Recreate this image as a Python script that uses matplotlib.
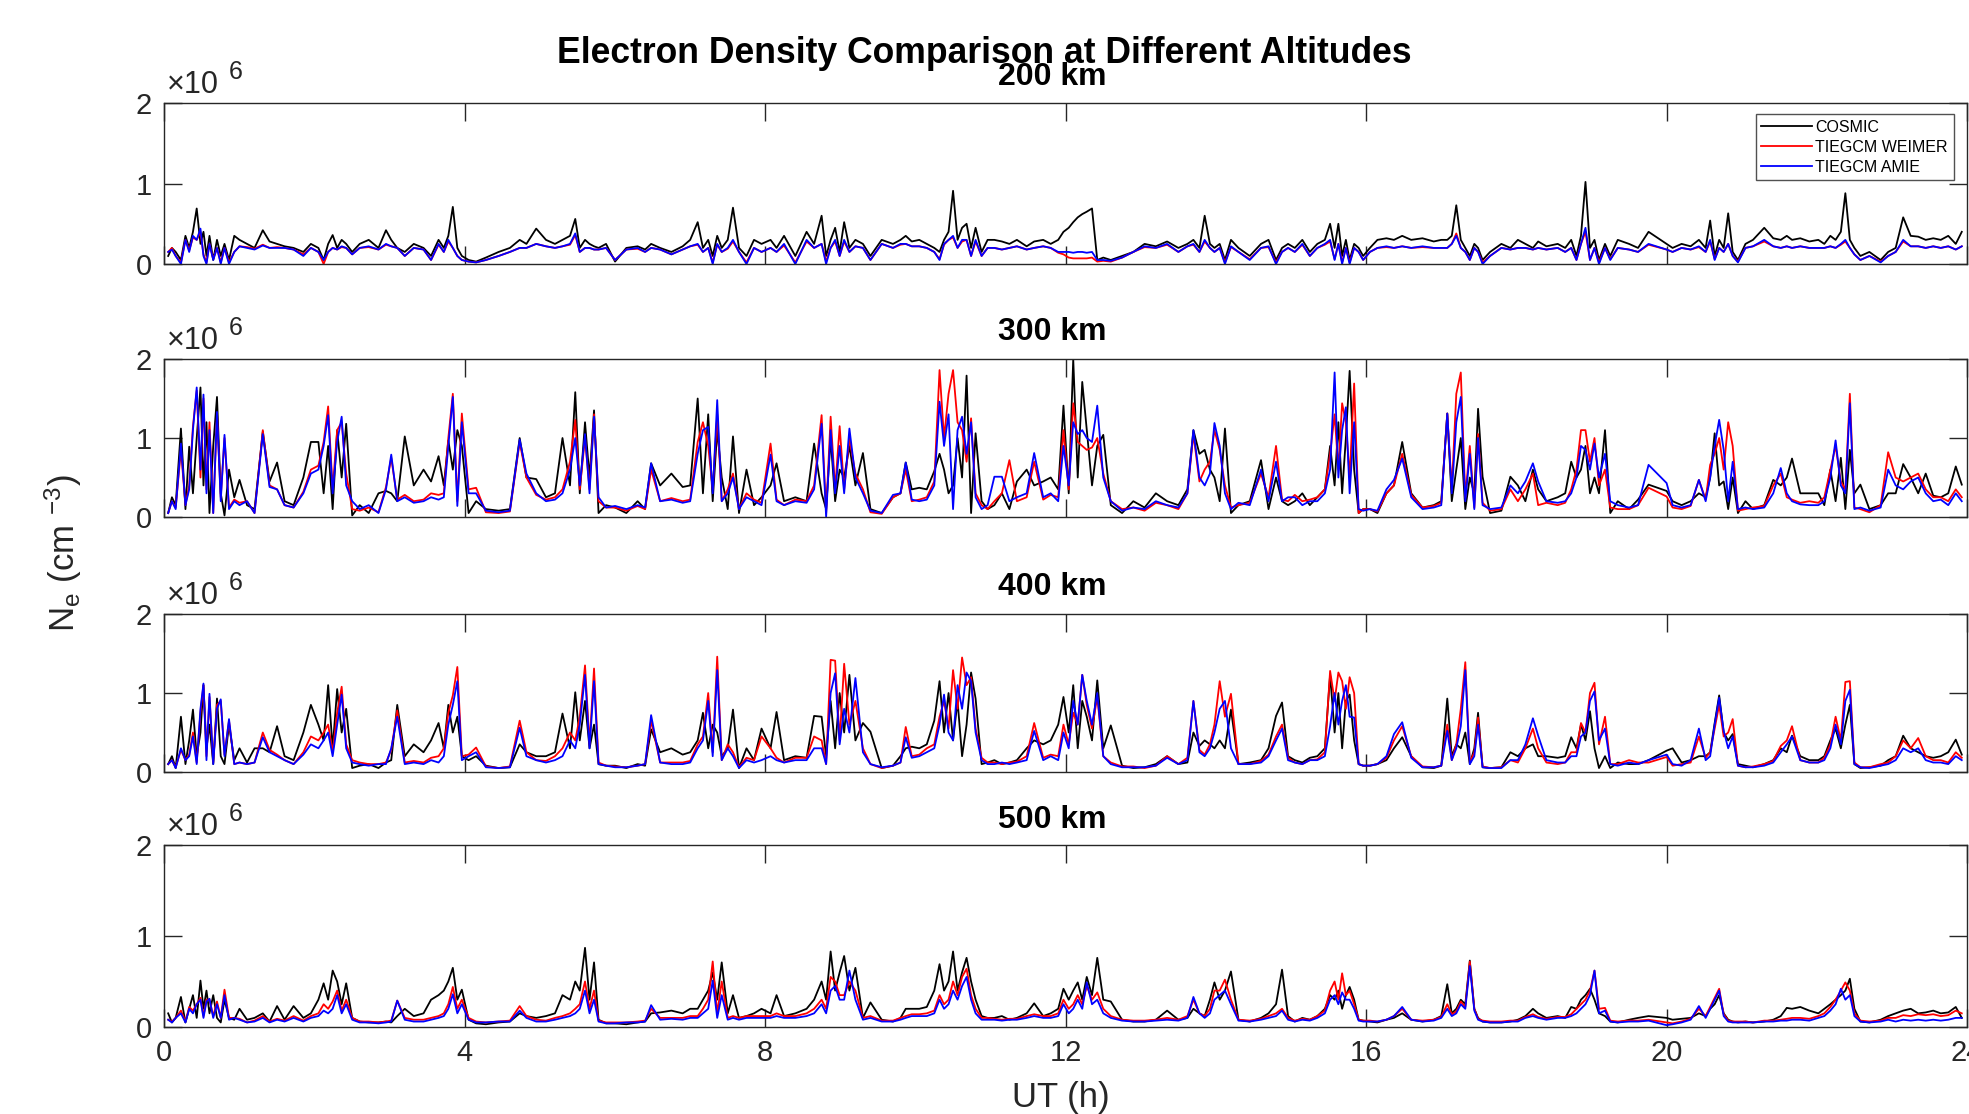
import matplotlib
matplotlib.use("Agg")
import matplotlib.pyplot as plt

plt.rcParams["font.family"] = ["Liberation Sans", "DejaVu Sans"]
plt.rcParams["mathtext.fontset"] = "custom"
plt.rcParams["mathtext.rm"] = "Liberation Sans"
plt.rcParams["mathtext.it"] = "Liberation Sans"

AXIS_GRAY = "#262626"

# UT (hours) of the profiles, shared by all four altitudes
ut = [
    0.05, 0.10, 0.15, 0.22, 0.28, 0.33, 0.38, 0.43, 0.48, 0.52, 0.56, 0.60, 0.65, 0.70, 0.75, 0.80, 0.86, 0.93,
    1.00, 1.10, 1.20, 1.31, 1.40, 1.50, 1.60, 1.72, 1.85, 1.95,
    2.05, 2.12, 2.18, 2.24, 2.30, 2.36, 2.42, 2.50, 2.60, 2.72, 2.85, 2.95,
    3.02, 3.10, 3.20, 3.32, 3.45, 3.55, 3.65, 3.72, 3.78, 3.84, 3.90, 3.96,
    4.05, 4.15, 4.28, 4.45, 4.60, 4.73, 4.82, 4.95,
    5.08, 5.20, 5.30, 5.40, 5.47, 5.53, 5.60, 5.66, 5.72, 5.78, 5.88,
    6.00, 6.15, 6.30, 6.40, 6.48, 6.60, 6.75, 6.90, 7.00,
    7.10, 7.17, 7.24, 7.30, 7.36, 7.42, 7.50, 7.57, 7.65, 7.75, 7.85, 7.95,
    8.07, 8.15, 8.25, 8.40, 8.55, 8.65, 8.75, 8.81, 8.87, 8.93, 8.99,
    9.05, 9.12, 9.20, 9.30, 9.40, 9.55, 9.70, 9.80, 9.87, 9.95,
    10.05, 10.15, 10.25, 10.32, 10.38, 10.44, 10.50, 10.56, 10.62, 10.68, 10.74, 10.80, 10.88, 10.96,
    11.05, 11.15, 11.25, 11.35, 11.48, 11.58, 11.70, 11.80, 11.90, 11.97,
    12.04, 12.10, 12.16, 12.22, 12.28, 12.35, 12.42, 12.50, 12.60, 12.75, 12.90,
    13.05, 13.20, 13.35, 13.50, 13.62, 13.70, 13.78, 13.85, 13.92, 13.98,
    14.05, 14.12, 14.20, 14.30, 14.45, 14.60, 14.70, 14.80, 14.88, 14.96,
    15.05, 15.15, 15.25, 15.35, 15.45, 15.52, 15.58, 15.63, 15.68, 15.73, 15.78, 15.84, 15.90, 15.96,
    16.05, 16.15, 16.27, 16.37, 16.48, 16.60, 16.75, 16.90, 17.00,
    17.08, 17.14, 17.20, 17.26, 17.32, 17.38, 17.44, 17.49, 17.55, 17.65, 17.80, 17.92,
    18.02, 18.12, 18.22, 18.29, 18.40, 18.55, 18.65, 18.73, 18.80, 18.86, 18.92, 18.98,
    19.04, 19.10, 19.18, 19.25, 19.35, 19.50, 19.62, 19.76, 20.00,
    20.08, 20.20, 20.32, 20.43, 20.52, 20.58, 20.64, 20.70, 20.76, 20.82, 20.88, 20.95,
    21.05, 21.15, 21.30, 21.42, 21.52, 21.60, 21.67, 21.78, 21.90,
    22.02, 22.10, 22.18, 22.25, 22.32, 22.38, 22.44, 22.50, 22.58, 22.70, 22.85, 22.95,
    23.05, 23.15, 23.25, 23.35, 23.45, 23.55, 23.65, 23.75, 23.85, 23.93,
]

# Ne in units of 1e6 cm^-3
cosmic_200 = [
    0.10, 0.20, 0.15, 0.05, 0.35, 0.20, 0.40, 0.69, 0.25, 0.40, 0.10, 0.35, 0.05, 0.30, 0.10, 0.25, 0.05, 0.35,
    0.30, 0.25, 0.20, 0.42, 0.28, 0.25, 0.22, 0.20, 0.15, 0.25,
    0.20, 0.05, 0.25, 0.36, 0.20, 0.30, 0.25, 0.15, 0.25, 0.30, 0.20, 0.42,
    0.30, 0.20, 0.15, 0.25, 0.20, 0.10, 0.30, 0.20, 0.35, 0.71, 0.20, 0.10,
    0.05, 0.03, 0.08, 0.15, 0.20, 0.30, 0.25, 0.44,
    0.30, 0.25, 0.30, 0.35, 0.56, 0.20, 0.30, 0.25, 0.22, 0.20, 0.25,
    0.03, 0.20, 0.22, 0.18, 0.25, 0.20, 0.15, 0.22, 0.30,
    0.52, 0.20, 0.30, 0.10, 0.35, 0.20, 0.30, 0.70, 0.20, 0.10, 0.30, 0.25,
    0.30, 0.20, 0.35, 0.10, 0.40, 0.25, 0.60, 0.10, 0.30, 0.45, 0.15,
    0.52, 0.20, 0.30, 0.25, 0.10, 0.30, 0.25, 0.30, 0.35, 0.28,
    0.30, 0.25, 0.20, 0.15, 0.30, 0.40, 0.91, 0.30, 0.45, 0.50, 0.20, 0.45, 0.15, 0.30,
    0.30, 0.28, 0.25, 0.30, 0.22, 0.28, 0.30, 0.25, 0.30, 0.40,
    0.45, 0.52, 0.58, 0.62, 0.65, 0.69, 0.05, 0.08, 0.05, 0.10, 0.15,
    0.25, 0.22, 0.28, 0.20, 0.25, 0.30, 0.20, 0.60, 0.25, 0.20,
    0.25, 0.05, 0.30, 0.20, 0.10, 0.25, 0.30, 0.05, 0.20, 0.25,
    0.20, 0.30, 0.15, 0.25, 0.30, 0.50, 0.20, 0.50, 0.10, 0.30, 0.05, 0.25, 0.20, 0.10,
    0.20, 0.30, 0.32, 0.30, 0.35, 0.30, 0.32, 0.28, 0.30,
    0.30, 0.35, 0.73, 0.30, 0.20, 0.10, 0.25, 0.20, 0.05, 0.15, 0.25, 0.20,
    0.30, 0.25, 0.20, 0.28, 0.22, 0.25, 0.20, 0.30, 0.10, 0.35, 1.02, 0.20,
    0.30, 0.05, 0.25, 0.10, 0.30, 0.25, 0.20, 0.40, 0.25,
    0.20, 0.25, 0.22, 0.30, 0.20, 0.54, 0.10, 0.30, 0.20, 0.63, 0.15, 0.05,
    0.25, 0.30, 0.45, 0.32, 0.30, 0.35, 0.30, 0.32, 0.28,
    0.30, 0.25, 0.35, 0.30, 0.40, 0.88, 0.30, 0.20, 0.10, 0.15, 0.05, 0.15,
    0.20, 0.58, 0.35, 0.34, 0.30, 0.32, 0.30, 0.35, 0.25, 0.40,
]
weimer_200 = [
    0.15, 0.20, 0.10, 0.02, 0.30, 0.17, 0.33, 0.30, 0.40, 0.12, 0.02, 0.25, 0.06, 0.20, 0.02, 0.20, 0.02, 0.15,
    0.22, 0.21, 0.19, 0.24, 0.20, 0.21, 0.20, 0.18, 0.12, 0.20,
    0.15, 0.00, 0.15, 0.20, 0.18, 0.21, 0.20, 0.12, 0.20, 0.21, 0.18, 0.24,
    0.22, 0.20, 0.10, 0.20, 0.18, 0.05, 0.24, 0.15, 0.28, 0.20, 0.10, 0.05,
    0.03, 0.02, 0.05, 0.10, 0.15, 0.20, 0.20, 0.25,
    0.22, 0.20, 0.22, 0.24, 0.36, 0.15, 0.20, 0.20, 0.18, 0.18, 0.20,
    0.05, 0.18, 0.19, 0.15, 0.20, 0.18, 0.12, 0.18, 0.22,
    0.24, 0.15, 0.20, 0.02, 0.24, 0.15, 0.19, 0.28, 0.15, 0.02, 0.20, 0.15,
    0.20, 0.15, 0.23, 0.02, 0.28, 0.20, 0.25, 0.03, 0.20, 0.28, 0.10,
    0.28, 0.15, 0.22, 0.20, 0.05, 0.25, 0.20, 0.24, 0.25, 0.22,
    0.22, 0.20, 0.15, 0.06, 0.24, 0.30, 0.33, 0.20, 0.28, 0.30, 0.10, 0.28, 0.10, 0.20,
    0.20, 0.18, 0.20, 0.22, 0.18, 0.20, 0.22, 0.20, 0.14, 0.12,
    0.08, 0.07, 0.07, 0.07, 0.07, 0.08, 0.03, 0.04, 0.03, 0.08, 0.15,
    0.21, 0.20, 0.24, 0.15, 0.22, 0.24, 0.15, 0.28, 0.20, 0.15,
    0.20, 0.02, 0.21, 0.15, 0.06, 0.20, 0.21, 0.02, 0.15, 0.20,
    0.15, 0.24, 0.10, 0.20, 0.24, 0.28, 0.06, 0.25, 0.02, 0.20, 0.02, 0.20, 0.15, 0.05,
    0.15, 0.20, 0.21, 0.20, 0.22, 0.20, 0.21, 0.20, 0.20,
    0.20, 0.25, 0.38, 0.20, 0.15, 0.05, 0.20, 0.15, 0.02, 0.10, 0.20, 0.18,
    0.20, 0.20, 0.18, 0.20, 0.18, 0.20, 0.15, 0.20, 0.05, 0.25, 0.40, 0.05,
    0.20, 0.02, 0.20, 0.06, 0.20, 0.18, 0.15, 0.24, 0.18,
    0.15, 0.20, 0.18, 0.21, 0.15, 0.28, 0.06, 0.20, 0.15, 0.25, 0.10, 0.03,
    0.20, 0.22, 0.28, 0.22, 0.20, 0.22, 0.20, 0.22, 0.20,
    0.20, 0.20, 0.22, 0.20, 0.24, 0.28, 0.20, 0.12, 0.05, 0.10, 0.03, 0.10,
    0.15, 0.28, 0.22, 0.22, 0.20, 0.22, 0.20, 0.22, 0.18, 0.22,
]
amie_200 = [
    0.15, 0.18, 0.10, 0.00, 0.30, 0.15, 0.35, 0.30, 0.44, 0.10, 0.00, 0.25, 0.05, 0.20, 0.00, 0.20, 0.00, 0.15,
    0.22, 0.20, 0.18, 0.23, 0.20, 0.20, 0.20, 0.18, 0.10, 0.20,
    0.15, 0.05, 0.15, 0.20, 0.18, 0.22, 0.20, 0.12, 0.20, 0.22, 0.18, 0.25,
    0.22, 0.20, 0.10, 0.20, 0.18, 0.05, 0.25, 0.15, 0.30, 0.20, 0.10, 0.05,
    0.03, 0.02, 0.05, 0.10, 0.15, 0.20, 0.20, 0.25,
    0.22, 0.20, 0.22, 0.25, 0.38, 0.15, 0.20, 0.20, 0.18, 0.18, 0.20,
    0.05, 0.18, 0.20, 0.15, 0.20, 0.18, 0.12, 0.18, 0.22,
    0.25, 0.15, 0.20, 0.00, 0.25, 0.15, 0.20, 0.30, 0.15, 0.00, 0.20, 0.15,
    0.20, 0.15, 0.25, 0.00, 0.30, 0.20, 0.25, 0.00, 0.20, 0.30, 0.10,
    0.30, 0.15, 0.22, 0.20, 0.05, 0.25, 0.20, 0.25, 0.25, 0.22,
    0.22, 0.20, 0.15, 0.05, 0.25, 0.30, 0.35, 0.20, 0.30, 0.30, 0.10, 0.30, 0.10, 0.20,
    0.20, 0.18, 0.20, 0.22, 0.18, 0.20, 0.22, 0.20, 0.15, 0.15,
    0.15, 0.14, 0.15, 0.15, 0.14, 0.15, 0.05, 0.05, 0.04, 0.08, 0.15,
    0.22, 0.20, 0.25, 0.15, 0.22, 0.25, 0.15, 0.30, 0.20, 0.15,
    0.20, 0.00, 0.22, 0.15, 0.05, 0.20, 0.22, 0.00, 0.15, 0.20,
    0.15, 0.25, 0.10, 0.20, 0.25, 0.30, 0.05, 0.25, 0.00, 0.20, 0.00, 0.20, 0.15, 0.05,
    0.15, 0.20, 0.22, 0.20, 0.22, 0.20, 0.22, 0.20, 0.20,
    0.20, 0.25, 0.35, 0.20, 0.15, 0.05, 0.20, 0.15, 0.00, 0.10, 0.20, 0.18,
    0.20, 0.20, 0.18, 0.20, 0.18, 0.20, 0.15, 0.20, 0.05, 0.25, 0.45, 0.05,
    0.20, 0.00, 0.20, 0.05, 0.20, 0.18, 0.15, 0.25, 0.18,
    0.15, 0.20, 0.18, 0.22, 0.15, 0.30, 0.05, 0.20, 0.15, 0.25, 0.10, 0.02,
    0.20, 0.22, 0.30, 0.22, 0.20, 0.22, 0.20, 0.22, 0.20,
    0.20, 0.20, 0.22, 0.20, 0.25, 0.30, 0.20, 0.12, 0.05, 0.10, 0.02, 0.10,
    0.15, 0.30, 0.22, 0.22, 0.20, 0.22, 0.20, 0.22, 0.18, 0.22,
]

cosmic_300 = [
    0.05, 0.25, 0.15, 1.12, 0.10, 0.89, 0.30, 1.00, 1.64, 0.40, 1.20, 0.05, 0.90, 1.52, 0.30, 0.02, 0.60, 0.25,
    0.47, 0.15, 0.10, 1.08, 0.45, 0.69, 0.20, 0.15, 0.50, 0.95,
    0.95, 0.30, 0.90, 0.10, 1.10, 0.50, 1.18, 0.02, 0.15, 0.05, 0.30, 0.33,
    0.30, 0.20, 1.02, 0.40, 0.60, 0.45, 0.77, 0.40, 0.97, 0.60, 1.10, 0.90,
    0.05, 0.20, 0.10, 0.08, 0.10, 1.00, 0.50, 0.48,
    0.25, 0.30, 1.00, 0.40, 1.58, 0.30, 1.20, 0.50, 1.35, 0.05, 0.15,
    0.12, 0.05, 0.20, 0.10, 0.68, 0.40, 0.55, 0.38, 0.40,
    1.50, 0.30, 1.30, 0.20, 1.10, 0.50, 0.10, 1.02, 0.05, 0.60, 0.15, 0.25,
    0.40, 0.68, 0.20, 0.25, 0.20, 0.93, 0.30, 0.10, 1.00, 0.20, 0.60,
    0.50, 0.90, 0.40, 0.81, 0.10, 0.05, 0.25, 0.30, 0.69, 0.35,
    0.37, 0.35, 0.58, 0.80, 0.60, 0.30, 0.40, 1.00, 0.50, 1.79, 0.05, 1.06, 0.20, 0.10,
    0.15, 0.30, 0.10, 0.45, 0.60, 0.40, 0.45, 0.50, 0.35, 1.41,
    0.30, 2.00, 0.50, 1.71, 1.10, 0.40, 0.90, 1.04, 0.15, 0.05, 0.20,
    0.12, 0.30, 0.20, 0.15, 0.35, 1.10, 0.80, 0.85, 0.60, 0.50,
    0.20, 1.12, 0.05, 0.15, 0.20, 0.72, 0.10, 0.50, 0.20, 0.15,
    0.20, 0.30, 0.15, 0.25, 0.35, 0.90, 0.40, 1.20, 0.30, 1.00, 1.85, 0.60, 0.05, 0.10,
    0.10, 0.05, 0.30, 0.40, 0.95, 0.30, 0.12, 0.15, 0.20,
    1.31, 0.20, 0.60, 1.00, 0.10, 0.50, 0.30, 1.37, 0.51, 0.05, 0.08, 0.51,
    0.40, 0.20, 0.60, 0.35, 0.20, 0.25, 0.30, 0.70, 0.50, 0.60, 0.90, 0.30,
    0.50, 0.30, 1.10, 0.05, 0.20, 0.10, 0.22, 0.41, 0.33,
    0.20, 0.15, 0.20, 0.30, 0.25, 0.50, 1.06, 0.40, 0.45, 0.10, 0.50, 0.05,
    0.20, 0.10, 0.15, 0.47, 0.40, 0.50, 0.74, 0.30, 0.30,
    0.30, 0.15, 0.60, 0.20, 0.75, 0.10, 0.85, 0.30, 0.41, 0.10, 0.15, 0.30,
    0.30, 0.67, 0.50, 0.30, 0.55, 0.27, 0.25, 0.30, 0.64, 0.41,
]
weimer_300 = [
    0.05, 0.20, 0.12, 0.85, 0.15, 0.40, 1.15, 1.60, 0.50, 1.50, 0.35, 1.20, 0.05, 1.30, 0.25, 1.00, 0.12, 0.22,
    0.18, 0.20, 0.05, 1.10, 0.40, 0.35, 0.15, 0.12, 0.32, 0.60,
    0.65, 0.95, 1.40, 0.35, 1.10, 1.20, 0.55, 0.10, 0.08, 0.12, 0.06, 0.38,
    0.75, 0.22, 0.28, 0.20, 0.22, 0.30, 0.28, 0.30, 1.00, 1.56, 0.20, 1.31,
    0.35, 0.37, 0.06, 0.05, 0.07, 0.95, 0.50, 0.28,
    0.22, 0.25, 0.35, 0.70, 1.23, 0.35, 1.00, 0.35, 1.30, 0.20, 0.12,
    0.12, 0.08, 0.14, 0.10, 0.60, 0.20, 0.24, 0.20, 0.22,
    0.95, 1.20, 0.90, 0.35, 1.30, 0.20, 0.35, 0.55, 0.10, 0.30, 0.22, 0.18,
    0.93, 0.22, 0.15, 0.22, 0.20, 0.40, 1.29, 0.05, 1.27, 0.35, 1.15,
    0.35, 1.00, 0.55, 0.35, 0.06, 0.04, 0.25, 0.30, 0.60, 0.20,
    0.22, 0.25, 0.45, 1.86, 1.00, 1.56, 1.86, 1.20, 1.10, 0.70, 1.25, 0.30, 0.15, 0.10,
    0.20, 0.30, 0.72, 0.20, 0.25, 0.70, 0.22, 0.28, 0.25, 1.10,
    0.35, 1.44, 0.95, 0.90, 0.85, 0.88, 1.00, 0.55, 0.20, 0.10, 0.12,
    0.08, 0.18, 0.15, 0.10, 0.30, 1.05, 0.45, 0.60, 0.70, 1.10,
    0.85, 0.40, 0.12, 0.15, 0.18, 0.55, 0.25, 0.90, 0.22, 0.20,
    0.28, 0.20, 0.22, 0.25, 0.35, 0.80, 1.30, 0.60, 1.44, 1.20, 0.50, 1.69, 0.05, 0.10,
    0.10, 0.07, 0.30, 0.40, 0.80, 0.28, 0.12, 0.14, 0.18,
    1.31, 0.35, 1.56, 1.83, 0.25, 0.90, 0.12, 1.05, 0.18, 0.08, 0.10, 0.35,
    0.20, 0.35, 0.55, 0.15, 0.18, 0.15, 0.18, 0.35, 0.60, 1.10, 1.10, 0.70,
    1.00, 0.40, 0.60, 0.12, 0.10, 0.10, 0.15, 0.37, 0.26,
    0.12, 0.10, 0.14, 0.47, 0.22, 0.66, 0.80, 1.00, 0.60, 1.20, 0.90, 0.08,
    0.10, 0.12, 0.14, 0.40, 0.55, 0.25, 0.22, 0.18, 0.20,
    0.18, 0.25, 0.60, 0.90, 0.45, 0.35, 1.56, 0.12, 0.10, 0.06, 0.15, 0.82,
    0.50, 0.45, 0.50, 0.55, 0.35, 0.25, 0.25, 0.20, 0.35, 0.25,
]
amie_300 = [
    0.05, 0.20, 0.10, 0.93, 0.15, 0.35, 1.10, 1.64, 0.60, 1.55, 0.30, 1.10, 0.05, 1.33, 0.20, 1.04, 0.10, 0.20,
    0.15, 0.20, 0.05, 1.05, 0.38, 0.35, 0.15, 0.12, 0.30, 0.55,
    0.60, 0.90, 1.29, 0.30, 0.95, 1.27, 0.40, 0.20, 0.10, 0.15, 0.05, 0.35,
    0.79, 0.20, 0.25, 0.18, 0.20, 0.25, 0.22, 0.25, 0.90, 1.52, 0.14, 1.20,
    0.30, 0.30, 0.08, 0.06, 0.08, 0.98, 0.55, 0.30,
    0.20, 0.22, 0.30, 0.60, 1.00, 0.40, 1.05, 0.30, 1.27, 0.25, 0.12,
    0.14, 0.10, 0.15, 0.12, 0.68, 0.20, 0.22, 0.18, 0.20,
    0.80, 1.10, 1.14, 0.30, 1.48, 0.20, 0.30, 0.50, 0.10, 0.25, 0.20, 0.15,
    0.79, 0.20, 0.15, 0.20, 0.18, 0.35, 1.18, 0.00, 1.10, 0.30, 0.90,
    0.30, 1.12, 0.50, 0.30, 0.08, 0.05, 0.28, 0.30, 0.69, 0.22,
    0.20, 0.22, 0.40, 1.46, 0.90, 1.30, 0.10, 1.10, 1.27, 0.80, 1.20, 0.25, 0.10, 0.15,
    0.51, 0.51, 0.20, 0.25, 0.30, 0.81, 0.25, 0.30, 0.20, 0.90,
    0.40, 1.20, 1.05, 1.10, 1.00, 0.95, 1.41, 0.50, 0.20, 0.08, 0.12,
    0.10, 0.20, 0.15, 0.12, 0.30, 1.10, 0.50, 0.40, 0.55, 1.19,
    0.90, 0.30, 0.10, 0.18, 0.15, 0.60, 0.20, 0.70, 0.20, 0.25,
    0.25, 0.15, 0.20, 0.20, 0.30, 0.60, 1.83, 0.50, 1.10, 1.39, 0.30, 1.20, 0.10, 0.08,
    0.10, 0.08, 0.35, 0.47, 0.74, 0.25, 0.10, 0.12, 0.15,
    1.31, 0.30, 1.20, 1.52, 0.20, 0.80, 0.10, 1.00, 0.15, 0.10, 0.12, 0.40,
    0.30, 0.45, 0.68, 0.45, 0.20, 0.18, 0.20, 0.30, 0.50, 0.90, 0.85, 0.60,
    0.93, 0.50, 0.80, 0.20, 0.15, 0.12, 0.15, 0.66, 0.43,
    0.15, 0.12, 0.15, 0.47, 0.20, 0.50, 0.90, 1.23, 0.85, 0.20, 0.70, 0.10,
    0.12, 0.10, 0.12, 0.30, 0.62, 0.30, 0.20, 0.16, 0.15,
    0.15, 0.20, 0.50, 0.97, 0.40, 0.30, 1.44, 0.10, 0.12, 0.08, 0.12, 0.60,
    0.40, 0.35, 0.45, 0.50, 0.30, 0.20, 0.22, 0.15, 0.30, 0.20,
]

cosmic_400 = [
    0.10, 0.20, 0.05, 0.70, 0.10, 0.40, 0.79, 0.20, 0.50, 1.10, 0.30, 0.60, 0.10, 0.93, 0.20, 0.10, 0.60, 0.15,
    0.30, 0.12, 0.30, 0.30, 0.25, 0.58, 0.20, 0.15, 0.50, 0.85,
    0.60, 0.40, 1.10, 0.30, 1.05, 0.50, 0.80, 0.05, 0.08, 0.10, 0.05, 0.12,
    0.15, 0.85, 0.20, 0.35, 0.25, 0.40, 0.62, 0.30, 0.85, 0.50, 0.70, 0.20,
    0.15, 0.20, 0.08, 0.05, 0.06, 0.35, 0.25, 0.20,
    0.20, 0.25, 0.74, 0.30, 1.01, 0.40, 0.90, 0.30, 0.60, 0.10, 0.08,
    0.08, 0.05, 0.10, 0.08, 0.54, 0.25, 0.30, 0.22, 0.25,
    0.40, 0.75, 0.30, 0.60, 0.50, 0.20, 0.30, 0.79, 0.05, 0.30, 0.15, 0.55,
    0.30, 0.76, 0.15, 0.20, 0.18, 0.71, 0.70, 0.20, 0.90, 0.30, 1.00,
    0.50, 1.23, 0.40, 0.62, 0.51, 0.05, 0.08, 0.20, 0.30, 0.32,
    0.30, 0.35, 0.65, 1.15, 0.50, 1.00, 0.40, 0.90, 0.20, 0.60, 1.26, 0.93, 0.10, 0.12,
    0.15, 0.10, 0.12, 0.15, 0.30, 0.40, 0.35, 0.40, 0.60, 0.95,
    0.50, 1.10, 0.30, 0.90, 0.70, 0.40, 1.16, 0.30, 0.59, 0.08, 0.05,
    0.06, 0.10, 0.20, 0.10, 0.12, 0.50, 0.33, 0.40, 0.35, 0.30,
    0.40, 0.30, 0.79, 0.10, 0.12, 0.15, 0.30, 0.71, 0.88, 0.20,
    0.15, 0.12, 0.18, 0.20, 0.30, 1.23, 0.50, 1.00, 0.30, 0.90, 0.98, 0.40, 0.10, 0.08,
    0.08, 0.10, 0.15, 0.30, 0.44, 0.20, 0.06, 0.05, 0.08,
    0.93, 0.20, 0.35, 0.30, 0.50, 0.10, 0.30, 0.75, 0.06, 0.05, 0.06, 0.25,
    0.20, 0.30, 0.35, 0.20, 0.20, 0.18, 0.20, 0.44, 0.30, 0.60, 0.40, 0.77,
    0.30, 0.05, 0.20, 0.05, 0.12, 0.10, 0.10, 0.15, 0.27,
    0.30, 0.12, 0.15, 0.20, 0.20, 0.25, 0.62, 0.97, 0.50, 0.40, 0.48, 0.10,
    0.08, 0.06, 0.10, 0.15, 0.30, 0.25, 0.46, 0.20, 0.15,
    0.15, 0.20, 0.40, 0.55, 0.30, 0.60, 0.85, 0.10, 0.05, 0.06, 0.08, 0.15,
    0.20, 0.46, 0.30, 0.25, 0.20, 0.18, 0.20, 0.25, 0.41, 0.22,
]
weimer_400 = [
    0.10, 0.15, 0.06, 0.28, 0.15, 0.22, 0.50, 0.12, 0.75, 1.10, 0.20, 0.95, 0.12, 0.85, 0.90, 0.22, 0.65, 0.10,
    0.12, 0.10, 0.12, 0.50, 0.28, 0.22, 0.15, 0.10, 0.25, 0.45,
    0.40, 0.50, 0.60, 0.25, 0.75, 1.08, 0.35, 0.15, 0.12, 0.10, 0.10, 0.12,
    0.28, 0.78, 0.12, 0.14, 0.12, 0.18, 0.20, 0.30, 0.75, 0.97, 1.33, 0.20,
    0.22, 0.31, 0.07, 0.05, 0.07, 0.65, 0.25, 0.15,
    0.14, 0.20, 0.30, 0.50, 0.40, 0.70, 1.35, 0.35, 1.31, 0.12, 0.08,
    0.07, 0.06, 0.08, 0.10, 0.65, 0.12, 0.12, 0.12, 0.14,
    0.35, 0.45, 1.00, 0.25, 1.46, 0.15, 0.35, 0.25, 0.06, 0.18, 0.15, 0.45,
    0.30, 0.18, 0.12, 0.18, 0.18, 0.45, 0.40, 0.10, 1.42, 1.41, 0.40,
    1.37, 0.60, 0.90, 0.30, 0.10, 0.05, 0.08, 0.12, 0.57, 0.20,
    0.22, 0.30, 0.35, 0.70, 0.90, 0.55, 1.29, 0.80, 1.45, 1.10, 1.20, 0.55, 0.18, 0.12,
    0.12, 0.10, 0.12, 0.13, 0.20, 0.62, 0.18, 0.22, 0.20, 0.60,
    0.35, 0.75, 0.60, 1.23, 0.85, 0.55, 0.95, 0.20, 0.12, 0.07, 0.07,
    0.05, 0.08, 0.20, 0.10, 0.18, 0.90, 0.28, 0.22, 0.35, 0.60,
    1.15, 0.70, 0.99, 0.10, 0.10, 0.14, 0.22, 0.45, 0.60, 0.18,
    0.12, 0.10, 0.15, 0.16, 0.25, 1.28, 0.90, 1.26, 1.15, 0.80, 1.20, 1.00, 0.10, 0.08,
    0.08, 0.10, 0.18, 0.40, 0.58, 0.20, 0.07, 0.06, 0.08,
    0.60, 0.15, 0.35, 0.80, 1.39, 0.12, 0.25, 0.69, 0.07, 0.05, 0.06, 0.15,
    0.12, 0.30, 0.55, 0.30, 0.12, 0.10, 0.12, 0.25, 0.25, 0.62, 0.50, 1.00,
    1.13, 0.35, 0.70, 0.10, 0.10, 0.15, 0.12, 0.12, 0.19,
    0.08, 0.10, 0.12, 0.45, 0.18, 0.25, 0.55, 0.85, 0.45, 0.50, 0.67, 0.08,
    0.06, 0.07, 0.10, 0.14, 0.33, 0.40, 0.58, 0.15, 0.12,
    0.12, 0.18, 0.35, 0.70, 0.40, 1.14, 1.15, 0.12, 0.06, 0.06, 0.10, 0.12,
    0.20, 0.40, 0.30, 0.43, 0.20, 0.15, 0.15, 0.12, 0.25, 0.18,
]
amie_400 = [
    0.10, 0.15, 0.05, 0.30, 0.15, 0.20, 0.45, 0.10, 0.80, 1.12, 0.15, 0.99, 0.10, 0.80, 0.92, 0.20, 0.67, 0.10,
    0.12, 0.10, 0.12, 0.44, 0.25, 0.20, 0.15, 0.10, 0.22, 0.35,
    0.30, 0.40, 0.50, 0.20, 0.60, 0.98, 0.30, 0.12, 0.10, 0.08, 0.10, 0.10,
    0.30, 0.70, 0.10, 0.12, 0.10, 0.15, 0.12, 0.20, 0.60, 0.85, 1.15, 0.15,
    0.20, 0.25, 0.06, 0.05, 0.06, 0.56, 0.20, 0.15,
    0.12, 0.15, 0.20, 0.40, 0.30, 0.60, 1.23, 0.30, 1.15, 0.10, 0.08,
    0.06, 0.06, 0.08, 0.10, 0.72, 0.12, 0.10, 0.10, 0.12,
    0.30, 0.40, 0.90, 0.20, 1.29, 0.15, 0.30, 0.20, 0.05, 0.15, 0.12, 0.15,
    0.20, 0.15, 0.12, 0.15, 0.15, 0.30, 0.30, 0.10, 1.00, 1.25, 0.35,
    0.80, 0.50, 1.19, 0.25, 0.10, 0.06, 0.08, 0.12, 0.44, 0.18,
    0.20, 0.25, 0.30, 0.60, 0.98, 0.50, 0.40, 1.10, 0.80, 1.26, 1.15, 0.50, 0.15, 0.10,
    0.10, 0.12, 0.10, 0.12, 0.15, 0.52, 0.15, 0.20, 0.15, 0.50,
    0.30, 0.90, 0.60, 1.23, 0.90, 0.60, 1.00, 0.20, 0.10, 0.06, 0.06,
    0.06, 0.08, 0.18, 0.10, 0.15, 0.90, 0.25, 0.20, 0.30, 0.50,
    0.80, 0.90, 0.30, 0.10, 0.10, 0.12, 0.20, 0.40, 0.55, 0.15,
    0.12, 0.10, 0.15, 0.15, 0.20, 0.58, 1.00, 0.60, 0.90, 1.10, 0.70, 0.69, 0.10, 0.08,
    0.08, 0.10, 0.20, 0.48, 0.63, 0.18, 0.06, 0.06, 0.08,
    0.52, 0.15, 0.30, 0.58, 1.29, 0.10, 0.20, 0.60, 0.06, 0.05, 0.05, 0.15,
    0.15, 0.35, 0.68, 0.46, 0.15, 0.12, 0.12, 0.20, 0.20, 0.45, 0.50, 0.90,
    1.02, 0.40, 0.55, 0.10, 0.08, 0.12, 0.10, 0.15, 0.22,
    0.10, 0.08, 0.15, 0.55, 0.15, 0.20, 0.60, 0.94, 0.52, 0.30, 0.45, 0.08,
    0.06, 0.06, 0.08, 0.12, 0.25, 0.35, 0.45, 0.15, 0.12,
    0.12, 0.15, 0.30, 0.60, 0.35, 0.90, 1.04, 0.10, 0.06, 0.05, 0.08, 0.10,
    0.15, 0.30, 0.25, 0.30, 0.15, 0.12, 0.12, 0.10, 0.20, 0.15,
]

cosmic_500 = [
    0.15, 0.05, 0.10, 0.33, 0.05, 0.20, 0.35, 0.10, 0.51, 0.20, 0.40, 0.15, 0.35, 0.10, 0.05, 0.30, 0.10, 0.08,
    0.20, 0.08, 0.10, 0.15, 0.06, 0.23, 0.08, 0.23, 0.10, 0.15,
    0.30, 0.48, 0.30, 0.62, 0.50, 0.25, 0.48, 0.10, 0.06, 0.05, 0.05, 0.06,
    0.05, 0.12, 0.20, 0.12, 0.15, 0.30, 0.35, 0.40, 0.50, 0.65, 0.30, 0.41,
    0.08, 0.04, 0.03, 0.05, 0.06, 0.15, 0.12, 0.10,
    0.12, 0.15, 0.35, 0.30, 0.50, 0.40, 0.87, 0.30, 0.71, 0.08, 0.04,
    0.04, 0.03, 0.05, 0.06, 0.15, 0.16, 0.18, 0.15, 0.20,
    0.20, 0.30, 0.40, 0.60, 0.30, 0.71, 0.15, 0.35, 0.10, 0.12, 0.15, 0.20,
    0.15, 0.35, 0.12, 0.15, 0.20, 0.30, 0.50, 0.30, 0.83, 0.40, 0.60,
    0.78, 0.40, 0.65, 0.10, 0.27, 0.08, 0.06, 0.10, 0.20, 0.20,
    0.20, 0.22, 0.40, 0.69, 0.40, 0.50, 0.83, 0.40, 0.60, 0.76, 0.50, 0.30, 0.12, 0.10,
    0.10, 0.12, 0.08, 0.10, 0.15, 0.26, 0.12, 0.15, 0.20, 0.42,
    0.30, 0.40, 0.49, 0.30, 0.55, 0.35, 0.76, 0.30, 0.28, 0.08, 0.06,
    0.06, 0.08, 0.18, 0.08, 0.10, 0.20, 0.15, 0.12, 0.30, 0.49,
    0.30, 0.40, 0.61, 0.08, 0.06, 0.10, 0.15, 0.25, 0.63, 0.12,
    0.06, 0.10, 0.08, 0.12, 0.20, 0.35, 0.30, 0.40, 0.20, 0.35, 0.44, 0.30, 0.08, 0.07,
    0.06, 0.05, 0.08, 0.10, 0.15, 0.08, 0.06, 0.08, 0.12,
    0.47, 0.15, 0.20, 0.30, 0.25, 0.73, 0.20, 0.10, 0.06, 0.05, 0.05, 0.06,
    0.08, 0.12, 0.20, 0.15, 0.10, 0.12, 0.10, 0.22, 0.20, 0.30, 0.35, 0.42,
    0.30, 0.15, 0.12, 0.06, 0.05, 0.08, 0.10, 0.12, 0.10,
    0.08, 0.09, 0.10, 0.15, 0.12, 0.20, 0.25, 0.35, 0.15, 0.08, 0.06, 0.05,
    0.06, 0.05, 0.06, 0.08, 0.12, 0.21, 0.20, 0.22, 0.18,
    0.15, 0.20, 0.25, 0.30, 0.35, 0.40, 0.53, 0.20, 0.06, 0.05, 0.08, 0.12,
    0.15, 0.18, 0.20, 0.15, 0.16, 0.18, 0.15, 0.16, 0.22, 0.10,
]
weimer_500 = [
    0.08, 0.06, 0.10, 0.18, 0.06, 0.22, 0.18, 0.25, 0.32, 0.12, 0.30, 0.30, 0.12, 0.28, 0.10, 0.41, 0.10, 0.10,
    0.09, 0.05, 0.07, 0.12, 0.06, 0.09, 0.07, 0.12, 0.07, 0.12,
    0.15, 0.25, 0.20, 0.28, 0.40, 0.18, 0.30, 0.10, 0.06, 0.06, 0.05, 0.06,
    0.07, 0.29, 0.10, 0.08, 0.08, 0.10, 0.12, 0.15, 0.25, 0.44, 0.20, 0.30,
    0.10, 0.06, 0.05, 0.06, 0.07, 0.23, 0.12, 0.08,
    0.07, 0.10, 0.12, 0.15, 0.20, 0.25, 0.50, 0.20, 0.40, 0.07, 0.05,
    0.05, 0.05, 0.06, 0.07, 0.20, 0.10, 0.10, 0.10, 0.12,
    0.12, 0.20, 0.30, 0.72, 0.15, 0.50, 0.10, 0.12, 0.10, 0.12, 0.12, 0.12,
    0.12, 0.15, 0.12, 0.12, 0.15, 0.20, 0.30, 0.20, 0.55, 0.50, 0.35,
    0.35, 0.50, 0.40, 0.10, 0.12, 0.07, 0.07, 0.10, 0.12, 0.14,
    0.14, 0.15, 0.18, 0.35, 0.25, 0.30, 0.50, 0.35, 0.55, 0.64, 0.35, 0.20, 0.10, 0.10,
    0.09, 0.08, 0.09, 0.09, 0.12, 0.14, 0.12, 0.12, 0.15, 0.30,
    0.20, 0.25, 0.35, 0.25, 0.45, 0.30, 0.38, 0.20, 0.12, 0.08, 0.07,
    0.07, 0.08, 0.10, 0.08, 0.12, 0.30, 0.15, 0.12, 0.20, 0.40,
    0.40, 0.52, 0.30, 0.08, 0.07, 0.09, 0.12, 0.15, 0.20, 0.10,
    0.07, 0.09, 0.08, 0.12, 0.18, 0.40, 0.50, 0.30, 0.59, 0.35, 0.40, 0.25, 0.08, 0.07,
    0.07, 0.06, 0.08, 0.12, 0.20, 0.08, 0.07, 0.08, 0.11,
    0.25, 0.14, 0.17, 0.28, 0.22, 0.72, 0.20, 0.09, 0.07, 0.06, 0.06, 0.07,
    0.07, 0.11, 0.14, 0.11, 0.09, 0.11, 0.11, 0.14, 0.20, 0.25, 0.30, 0.40,
    0.62, 0.20, 0.21, 0.07, 0.06, 0.07, 0.07, 0.08, 0.05,
    0.04, 0.06, 0.09, 0.20, 0.12, 0.22, 0.32, 0.42, 0.14, 0.07, 0.06, 0.06,
    0.06, 0.05, 0.07, 0.07, 0.08, 0.09, 0.10, 0.10, 0.09,
    0.12, 0.15, 0.22, 0.30, 0.40, 0.49, 0.40, 0.15, 0.07, 0.06, 0.07, 0.10,
    0.10, 0.13, 0.12, 0.14, 0.13, 0.14, 0.12, 0.13, 0.18, 0.15,
]
amie_500 = [
    0.08, 0.05, 0.10, 0.15, 0.05, 0.20, 0.15, 0.25, 0.30, 0.10, 0.28, 0.31, 0.10, 0.25, 0.10, 0.35, 0.08, 0.10,
    0.08, 0.05, 0.06, 0.10, 0.05, 0.08, 0.06, 0.10, 0.06, 0.10,
    0.12, 0.18, 0.15, 0.20, 0.35, 0.15, 0.25, 0.08, 0.05, 0.05, 0.04, 0.05,
    0.06, 0.29, 0.08, 0.06, 0.06, 0.08, 0.10, 0.12, 0.20, 0.36, 0.15, 0.25,
    0.08, 0.05, 0.05, 0.06, 0.06, 0.18, 0.10, 0.06,
    0.06, 0.08, 0.10, 0.12, 0.15, 0.20, 0.40, 0.15, 0.30, 0.06, 0.04,
    0.04, 0.05, 0.05, 0.06, 0.24, 0.08, 0.09, 0.08, 0.10,
    0.10, 0.15, 0.20, 0.51, 0.10, 0.35, 0.08, 0.10, 0.08, 0.10, 0.10, 0.10,
    0.10, 0.12, 0.10, 0.10, 0.12, 0.15, 0.25, 0.15, 0.40, 0.45, 0.30,
    0.30, 0.62, 0.30, 0.08, 0.10, 0.06, 0.06, 0.08, 0.10, 0.12,
    0.12, 0.12, 0.15, 0.30, 0.20, 0.25, 0.40, 0.30, 0.45, 0.55, 0.30, 0.15, 0.08, 0.08,
    0.08, 0.07, 0.08, 0.08, 0.10, 0.12, 0.10, 0.10, 0.12, 0.25,
    0.15, 0.20, 0.30, 0.20, 0.49, 0.25, 0.30, 0.15, 0.10, 0.07, 0.06,
    0.06, 0.07, 0.08, 0.07, 0.10, 0.33, 0.15, 0.10, 0.15, 0.30,
    0.35, 0.40, 0.25, 0.07, 0.06, 0.08, 0.10, 0.12, 0.18, 0.08,
    0.06, 0.08, 0.07, 0.10, 0.15, 0.30, 0.35, 0.25, 0.38, 0.30, 0.30, 0.20, 0.07, 0.06,
    0.06, 0.06, 0.08, 0.12, 0.22, 0.08, 0.06, 0.07, 0.10,
    0.20, 0.12, 0.15, 0.25, 0.20, 0.67, 0.18, 0.08, 0.06, 0.05, 0.05, 0.06,
    0.06, 0.10, 0.12, 0.10, 0.08, 0.10, 0.10, 0.12, 0.15, 0.20, 0.25, 0.35,
    0.62, 0.15, 0.18, 0.06, 0.05, 0.06, 0.06, 0.07, 0.02,
    0.03, 0.05, 0.08, 0.23, 0.10, 0.20, 0.30, 0.40, 0.12, 0.06, 0.05, 0.05,
    0.05, 0.05, 0.06, 0.06, 0.07, 0.07, 0.08, 0.08, 0.07,
    0.10, 0.12, 0.18, 0.25, 0.42, 0.30, 0.35, 0.12, 0.06, 0.05, 0.06, 0.08,
    0.06, 0.08, 0.07, 0.08, 0.07, 0.08, 0.07, 0.08, 0.10, 0.10,
]

altitudes = ["200 km", "300 km", "400 km", "500 km"]
series_labels = ["COSMIC", "TIEGCM WEIMER", "TIEGCM AMIE"]
series_colors = ["black", "red", "blue"]
panel_data = [
    (cosmic_200, weimer_200, amie_200),
    (cosmic_300, weimer_300, amie_300),
    (cosmic_400, weimer_400, amie_400),
    (cosmic_500, weimer_500, amie_500),
]

# axes boxes in figure fractions [left, bottom, width, height]
AX_BOXES = [
    [0.0835, 0.7630, 0.9155, 0.1445],
    [0.0835, 0.5359, 0.9155, 0.1418],
    [0.0835, 0.3070, 0.9155, 0.1418],
    [0.0835, 0.0781, 0.9155, 0.1634],
]
TITLE_Y = [0.931, 0.702, 0.473, 0.264]


def check_lengths() -> None:
    for alt, group in zip(altitudes, panel_data):
        for label, values in zip(series_labels, group):
            if len(values) != len(ut):
                raise ValueError(f"{alt} {label}: {len(values)} values vs {len(ut)} times")


def draw_panel(fig, box, title, title_y, group, bottom):
    ax = fig.add_axes(box)
    for values, color, label in zip(group, series_colors, series_labels):
        ax.plot(ut, values, color=color, linewidth=1.3, label=label)

    ax.set_xlim(0, 24)
    ax.set_ylim(0, 2)
    ax.set_xticks(range(0, 25, 4))
    ax.set_yticks([0, 1, 2])
    ax.set_yticklabels(["0", "1", "2"])
    ax.tick_params(direction="in", length=13, width=1, top=True, right=True,
                   colors=AXIS_GRAY, labelsize=21, pad=9,
                   labelbottom=bottom)
    for spine in ax.spines.values():
        spine.set_color(AXIS_GRAY)
        spine.set_linewidth(1.0)

    ax.annotate("×10", xy=(0, 1), xycoords="axes fraction", xytext=(2, 18),
                textcoords="offset pixels", ha="left", va="center",
                fontsize=22, color=AXIS_GRAY)
    ax.annotate("6", xy=(0, 1), xycoords="axes fraction", xytext=(64, 31),
                textcoords="offset pixels", ha="left", va="center",
                fontsize=18, color=AXIS_GRAY)

    fig.text(0.5345, title_y, title, ha="center", va="center",
             fontsize=23, fontweight="bold")
    return ax


def main() -> None:
    check_lengths()

    fig = plt.figure(figsize=(19.69, 11.14), dpi=100)

    axes = []
    for i, (box, alt, ty, group) in enumerate(zip(AX_BOXES, altitudes, TITLE_Y, panel_data)):
        axes.append(draw_panel(fig, box, alt, ty, group, bottom=(i == 3)))

    leg = axes[0].legend(loc="upper right", bbox_to_anchor=(0.9925, 0.932),
                         borderaxespad=0, fontsize=11.5, frameon=True,
                         fancybox=False, handlelength=3.2, handletextpad=0.2,
                         labelspacing=0.32, borderpad=0.35)
    leg.get_frame().set_edgecolor(AXIS_GRAY)
    leg.get_frame().set_linewidth(1.0)
    for line in leg.get_lines():
        line.set_linewidth(1.3)

    fig.text(0.5, 0.952, "Electron Density Comparison at Different Altitudes",
             ha="center", va="center", fontsize=25.6, fontweight="bold")
    fig.text(0.539, 0.0144, "UT (h)", ha="center", va="center",
             fontsize=25, color=AXIS_GRAY)
    fig.text(0.032, 0.5036, r"N$_\mathregular{e}$ (cm $^\mathregular{-3}$)",
             ha="center", va="center", rotation=90, fontsize=25, color=AXIS_GRAY)

    fig.savefig("out.png", dpi=100)
    plt.close(fig)


if __name__ == "__main__":
    main()
